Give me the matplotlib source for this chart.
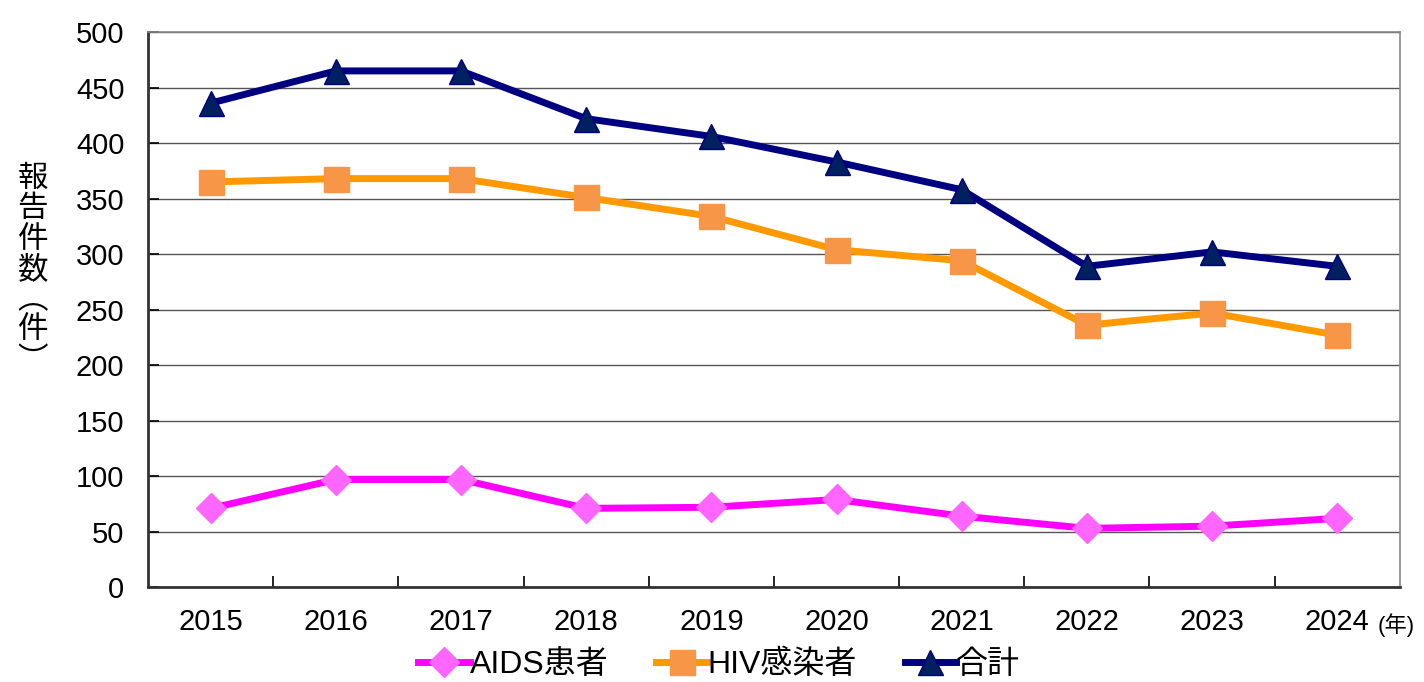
import matplotlib
matplotlib.use("Agg")
import matplotlib.pyplot as plt

# -------- DATA --------
years = ["2015", "2016", "2017", "2018", "2019", "2020", "2021", "2022", "2023", "2024"]
aids = [71, 97, 97, 71, 72, 79, 64, 53, 55, 62]
hiv = [365, 368, 368, 351, 334, 304, 294, 236, 247, 227]
total = [436, 465, 465, 422, 406, 383, 358, 289, 302, 289]

FONTS = ["Liberation Sans", "Noto Sans CJK JP", "DejaVu Sans"]
plt.rcParams["font.family"] = FONTS

fig = plt.figure(figsize=(14.24, 6.82), dpi=100)
ax = fig.add_axes([0.104, 0.139, 0.879, 0.814])

x = list(range(len(years)))

ax.plot(x, aids, color="#FF00FF", lw=5, marker="D", ms=15,
        mfc="#FF66FF", mec="#FF66FF", label="AIDS患者", zorder=3)
ax.plot(x, hiv, color="#FF9900", lw=5, marker="s", ms=18,
        mfc="#F79646", mec="#F79646", label="HIV感染者", zorder=3)
ax.plot(x, total, color="#000080", lw=5, marker="^", ms=18,
        mfc="#002060", mec="#000080", label="合計", zorder=4)

ax.set_xlim(-0.5, len(years) - 0.5)
ax.set_ylim(0, 500)
ax.set_yticks(range(0, 501, 50))
ax.set_xticks(x)
ax.set_xticklabels(years)
# tick marks sit between categories
ax.set_xticks([i + 0.5 for i in x[:-1]], minor=True)
ax.tick_params(axis="x", which="major", length=0, pad=15, labelsize=21)
ax.tick_params(axis="x", which="minor", direction="in", length=8, width=1.2)
ax.tick_params(axis="y", direction="in", length=8, width=1.2, pad=17, labelsize=21)

ax.grid(axis="y", color="#555555", lw=1)
ax.set_axisbelow(True)
for s in ["top", "right"]:
    ax.spines[s].set_color("#888888")
    ax.spines[s].set_linewidth(1.2)
for s in ["left", "bottom"]:
    ax.spines[s].set_color("#333333")
    ax.spines[s].set_linewidth(2)

# vertical y label
fig.text(0.023, 0.605, "報\n告\n件\n数\n︵\n件\n︶", ha="center", va="center",
         fontsize=22, family=["Noto Sans CJK JP"], linespacing=0.97)

fig.text(0.9675, 0.083, "(年)", ha="left", va="center", fontsize=16)

leg = fig.legend(loc="center", bbox_to_anchor=(0.505, 0.025), ncol=3, frameon=False,
                 fontsize=23, handlelength=1.6, handletextpad=0.0, columnspacing=1.5,
                 borderpad=0)

fig.savefig("out.png", dpi=100)
